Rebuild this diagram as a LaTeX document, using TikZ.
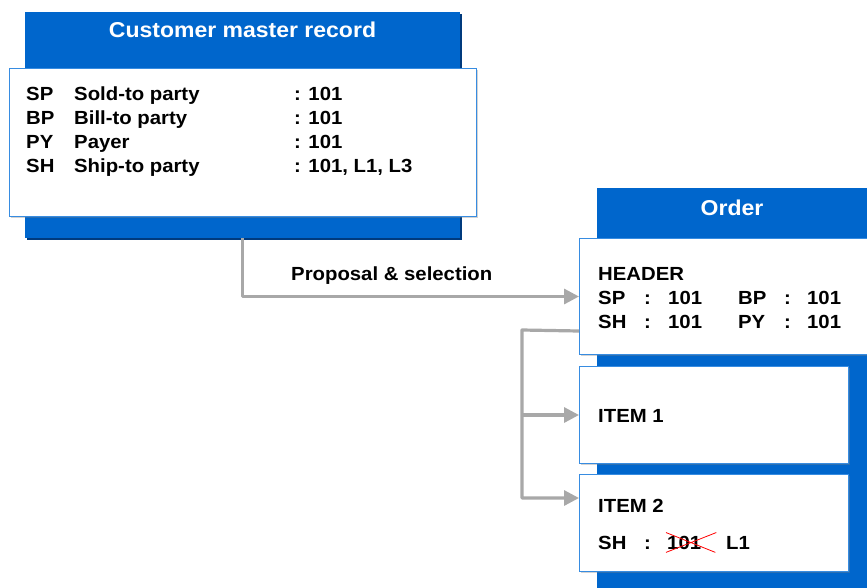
\documentclass[tikz,border=0pt]{standalone}
\usepackage{fontspec}
\setmainfont{Liberation Sans}[FakeStretch=1.07]
\usetikzlibrary{positioning,arrows.meta,shadows}
\definecolor{sapblue}{RGB}{0,102,204}
\definecolor{sapdark}{RGB}{0,58,125}
\definecolor{frameblue}{RGB}{55,140,225}
\definecolor{arrowgray}{RGB}{168,168,168}
\definecolor{arrowdark}{RGB}{130,130,130}

\begin{document}
\begin{tikzpicture}[x=1pt, y=-1pt, font=\bfseries\fontsize{19}{21}\selectfont,
    bluebox/.style = {fill=sapblue, anchor=north west, inner sep=0pt,
        drop shadow={shadow xshift=1.5pt, shadow yshift=-1.5pt, opacity=1, fill=sapdark}},
    whitebox/.style = {draw=frameblue, line width=1pt, fill=white, anchor=north west, inner sep=0pt,
        drop shadow={shadow xshift=1pt, shadow yshift=-1pt, opacity=.35}},
    title/.style = {text=white, anchor=base, font=\bfseries\fontsize{21.5}{24}\selectfont},
    txt/.style = {anchor=base west, inner sep=0pt},
    conn/.style = {draw=arrowgray, line width=3.2pt, line join=round,
        -{Triangle[length=15pt,width=15pt,color=arrowgray]}}]
        \useasboundingbox (0,0) rectangle (867,587);

        \node[bluebox, minimum width=435pt, minimum height=226pt] (cmr) at (25,12) {};
        \node[title] (cmrtitle) at (242.5,37) {Customer master record};
        \node[whitebox, minimum width=467pt, minimum height=148pt] (cmrbody) at (9,68) {};
        \node[txt] (rowsp) at (26,100) {\makebox[48pt][l]{SP}\makebox[220pt][l]{Sold-to party}: 101};
        \node[txt] (rowbp) at (26,124) {\makebox[48pt][l]{BP}\makebox[220pt][l]{Bill-to party}: 101};
        \node[txt] (rowpy) at (26,148) {\makebox[48pt][l]{PY}\makebox[220pt][l]{Payer}: 101};
        \node[txt] (rowsh) at (26,172) {\makebox[48pt][l]{SH}\makebox[220pt][l]{Ship-to party}: 101, L1, L3};

        \node[bluebox, minimum width=270pt, minimum height=420pt] (ord) at (597,188) {};
        \node[title] (ordtitle) at (732,215) {Order};
        \node[whitebox, minimum width=300pt, minimum height=116pt] (hdr) at (579,238) {};
        \node[whitebox, minimum width=269pt, minimum height=97pt] (item1) at (579,366) {};
        \node[whitebox, minimum width=269pt, minimum height=97pt] (item2) at (579,474) {};

        \node[txt] (hdrtitle) at (598,280) {HEADER};
        \node[txt] (hdrrow1) at (598,304) {\makebox[46pt][l]{SP}\makebox[24pt][l]{:}\makebox[70pt][l]{101}\makebox[46pt][l]{BP}\makebox[23pt][l]{:}101};
        \node[txt] (hdrrow2) at (598,328) {\makebox[46pt][l]{SH}\makebox[24pt][l]{:}\makebox[70pt][l]{101}\makebox[46pt][l]{PY}\makebox[23pt][l]{:}101};
        \node[txt] (item1title) at (598,422) {ITEM 1};
        \node[txt] (item2title) at (598,512) {ITEM 2};
        \node[txt] (item2sh) at (598,549) {\makebox[46pt][l]{SH}:};
        \node[txt] (oldsh) at (667,549) {101};
        \node[txt] (newsh) at (726,549) {L1};
        \draw[red, line width=.8pt] ([shift={(-1pt,3pt)}]oldsh.north west) -- ([shift={(14pt,-3pt)}]oldsh.south east)
            ([shift={(-1pt,-3pt)}]oldsh.south west) -- ([shift={(15pt,3pt)}]oldsh.north east);

        \draw[conn] (cmr.south) |- (hdr.west);
        \node[txt] (proposal) at (291,280) {Proposal \& selection};
        \coordinate (bend) at (522,330);
        \draw[conn] ([yshift=24pt]hdr.south west) -- (bend) |- ([yshift=25pt]item2.west);
        \draw[conn] (bend |- item1.west) -- (item1.west);
    \end{tikzpicture}
\end{document}
